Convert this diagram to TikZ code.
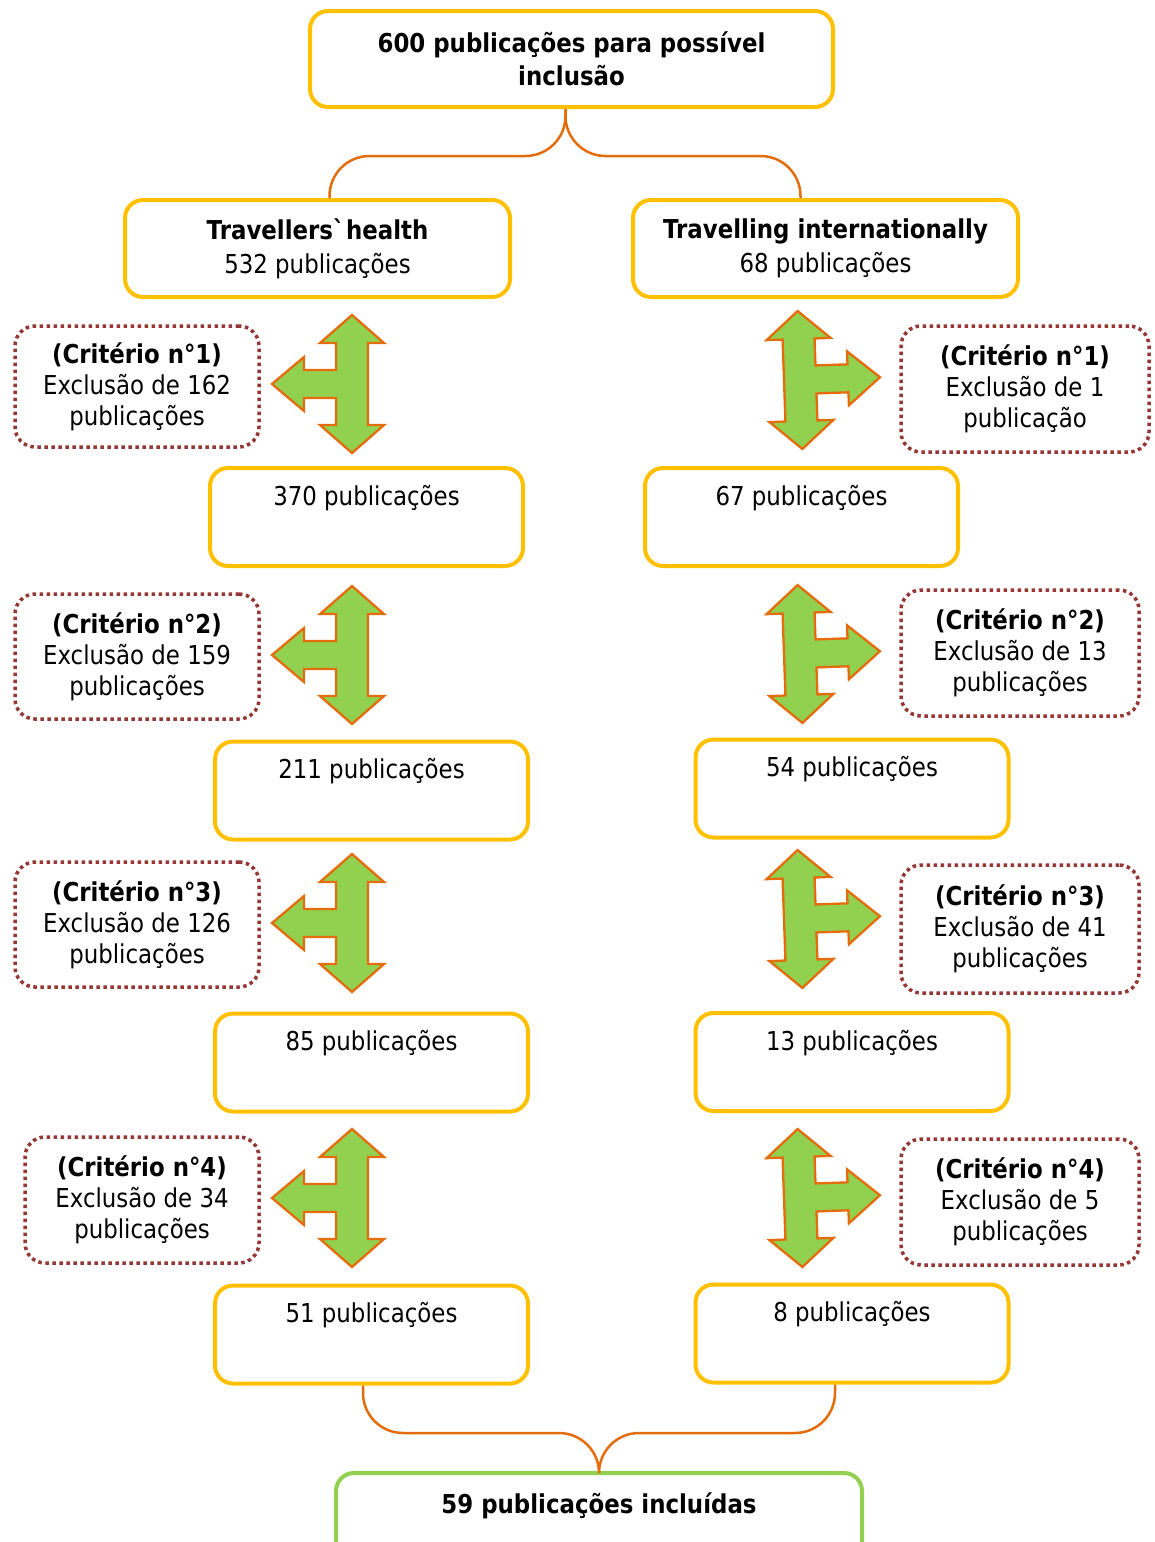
\documentclass[tikz,border=0pt]{standalone}
\usepackage{fontspec}
\setmainfont{DejaVu Sans}[FakeStretch=0.88]
\usepackage{tikz}
\usetikzlibrary{calc}
\definecolor{boxyellow}{HTML}{FFC000}\definecolor{lineorange}{HTML}{E46C0A}
\definecolor{dotred}{HTML}{953735}\definecolor{leafgreen}{HTML}{92D050}
\tikzset{pubbox/.style={draw=boxyellow,line width=4pt,rounded corners=18pt,minimum width=313pt,minimum height=98pt,align=center,inner sep=0pt,font=\fontsize{26}{34}\selectfont},
boldbox/.style={pubbox,font=\fontsize{26}{33}\selectfont\bfseries},
crit/.style={draw=dotred,line width=3.5pt,dash pattern=on 3.5pt off 3.5pt,rounded corners=20pt,minimum width=238pt,minimum height=126pt,align=center,inner sep=0pt,font=\fontsize{26}{31}\selectfont},
brace/.style={draw=lineorange,line width=2.5pt,rounded corners=40pt},
forkarrow/.style={fill=leafgreen,draw=lineorange,line width=2.3pt,line join=miter},
fork/.pic={\draw[forkarrow] (0,-69)--(32,-41)--(16,-41)--(16,41)--(32,41)--(0,69)--(-32,41)--(-16,41)--(-16,14)--(-48,14)--(-48,27)--(-80,0)--(-48,-27)--(-48,-14)--(-16,-14)--(-16,-41)--(-32,-41)--cycle;}}

\begin{document}
\begin{tikzpicture}[x=1pt,y=-1pt]
\useasboundingbox (0,0) rectangle (1154,1542);
\node[boldbox,minimum width=523pt,minimum height=96pt] (top) at (571.5,59){600 publicações para possível\\inclusão};
\node[pubbox,minimum width=385pt,minimum height=97pt] (lh) at (317.5,248.5){{\bfseries Travellers\textasciigrave health}\\532 publicações};
\node[pubbox,minimum width=385pt,minimum height=97pt] (rh) at (825.5,248.5){{\bfseries Travelling internationally}\\68 publicações};
\node[pubbox] (l370) at (366.5,517){370 publicações\\\strut};\node[pubbox] (r67) at (801.5,517){67 publicações\\\strut};
\node[pubbox] (l211) at (371.5,790.5){211 publicações\\\strut};\node[pubbox] (r54) at (852,788.5){54 publicações\\\strut};
\node[pubbox] (l85) at (371.5,1062.5){85 publicações\\\strut};\node[pubbox] (r13) at (852,1062){13 publicações\\\strut};
\node[pubbox] (l51) at (371.5,1334.5){51 publicações\\\strut};\node[pubbox] (r8) at (852,1333.5){8 publicações\\\strut};
\node[boldbox,draw=leafgreen,minimum width=526pt,minimum height=104pt] (fin) at (599,1525){59 publicações incluídas\\\strut};
\node[crit,minimum width=244pt,minimum height=121pt] (cl1) at (137,386.5){{\bfseries (Critério n°1)}\\Exclusão de 162\\publicações};
\node[crit,minimum width=244pt,minimum height=125pt] (cl2) at (137,656.5){{\bfseries (Critério n°2)}\\Exclusão de 159\\publicações};
\node[crit,minimum width=244pt,minimum height=125pt] (cl3) at (137,924.5){{\bfseries (Critério n°3)}\\Exclusão de 126\\publicações};
\node[crit,minimum width=234pt] (cl4) at (142,1200){{\bfseries (Critério n°4)}\\Exclusão de 34\\publicações};
\node[crit,minimum width=248pt] (cr1) at (1025,389){{\bfseries (Critério n°1)}\\Exclusão de 1\\publicação};
\node[crit] (cr2) at (1020,653){{\bfseries (Critério n°2)}\\Exclusão de 13\\publicações};
\node[crit,minimum height=128pt] (cr3) at (1020,929){{\bfseries (Critério n°3)}\\Exclusão de 41\\publicações};
\node[crit] (cr4) at (1020,1202){{\bfseries (Critério n°4)}\\Exclusão de 5\\publicações};
\foreach \cy in {384,655,923,1198}{\pic at (352,\cy){fork};}
\foreach \cy in {380,654,919,1198}{\pic[rotate=2,xscale=-1] at (800,\cy){fork};}
\coordinate (tb) at (0,156);\coordinate (bb) at (0,1433);
\coordinate (apex) at ([xshift=-6pt]top.south);\coordinate (lhin) at ([xshift=12pt]lh.north);\coordinate (rhin) at ([xshift=-25pt]rh.north);
\draw[brace] (apex) |- (lhin |- tb) -- (lhin);\draw[brace] (apex) |- (rhin |- tb) -- (rhin);
\coordinate (lout) at ([xshift=-8.5pt]l51.south);\coordinate (rout) at ([xshift=-17pt]r8.south);
\draw[brace] (lout) |- (fin.north |- bb) -- (fin.north);\draw[brace] (rout) |- (fin.north |- bb) -- (fin.north);
\end{tikzpicture}
\end{document}
